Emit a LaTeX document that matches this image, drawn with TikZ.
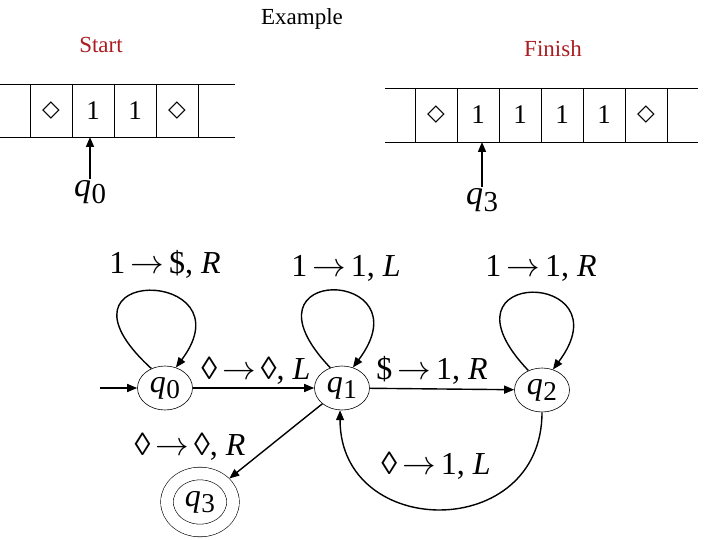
\documentclass[tikz,border=0pt]{standalone}
\usepackage{fontspec}
\setmainfont{Liberation Serif}
\newfontfamily\symfont{DejaVu Sans}
\usetikzlibrary{arrows.meta,shapes.geometric}
\definecolor{tapered}{RGB}{170,30,35}
\newcommand{\qst}[1]{\textit{q}\kern0.5pt\raisebox{-0.45ex}{\scalebox{0.85}{#1}}}
\newcommand{\blank}{{\symfont\fontsize{23}{23}\selectfont ◇}}
\newcommand{\goes}{\kern5pt\scalebox{1.35}{$\rightarrow$}\kern5pt}

\begin{document}
\begin{tikzpicture}[x=1pt, y=-1pt,
    title/.style={font=\fontsize{23}{23}\selectfont},
    tape/.style={line width=0.8pt},
    cell/.style={font=\fontsize{27}{27}\selectfont, inner sep=0pt},
    head/.style={font=\fontsize{34}{34}\selectfont, inner sep=1pt},
    pointer/.style={line width=1.5pt, -{Triangle[length=10pt,width=8pt]}},
    state/.style={ellipse, draw, line width=0.6pt, minimum width=55pt, minimum height=44pt, inner sep=0pt, font=\fontsize{32}{32}\selectfont},
    accepting/.style={double, double distance=12pt, minimum width=66pt, minimum height=57pt, outer sep=6.5pt},
    edge/.style={line width=1.4pt, -{Triangle[length=10pt,width=8pt]}},
    lbl/.style={font=\fontsize{32}{32}\selectfont, inner sep=0pt}
  ]
  \useasboundingbox (0,0) rectangle (720,540);

  % titles
  \node[title] (ex) at (302,19) {Example};
  \node[title, text=tapered] (st) at (101,45) {Start};
  \node[title, text=tapered] (fin) at (553,49) {Finish};

  % start tape
  \draw[tape] (0,84) -- (235,84) (0,137) -- (235,137);
  \foreach \x in {30,72,114,156,198} \draw[tape] (\x,84) -- (\x,137);
  \foreach \x/\s in {51/\blank,93/1,135/1,177/\blank} \node[cell] at (\x,111) {\s};
  \node[head] (hd0) at (90,192) {\qst{0}};
  \coordinate (t0) at (hd0.north |- 0,137);
  \draw[pointer] (hd0.north) -- (t0);

  % finish tape
  \draw[tape] (385,88) -- (698,88) (385,142) -- (698,142);
  \foreach \x in {415,457,499,541,583,625,667} \draw[tape] (\x,88) -- (\x,142);
  \foreach \x/\s in {436/\blank,478/1,520/1,562/1,604/1,646/\blank} \node[cell] at (\x,115) {\s};
  \node[head] (hd3) at (482,200) {\qst{3}};
  \coordinate (t3) at (hd3.north |- 0,142);
  \draw[pointer] (hd3.north) -- (t3);

  % states
  \node[state] (q0) at (165,388) {\qst{0}};
  \node[state] (q1) at (342,388) {\qst{1}};
  \node[state] (q2) at (542,390) {\qst{2}};
  \node[state, accepting] (q3) at (200,502) {\qst{3}};
  \coordinate (in) at (100,388);

  % transitions
  \draw[edge] (in) -- (q0);
  \draw[edge] (q0.125) .. controls +(-115,-105) and +(75,-100) .. (q0.62);
  \draw[edge] (q1.120) .. controls +(-100,-105) and +(75,-100) .. (q1.62);
  \draw[edge] (q2.125) .. controls +(-100,-105) and +(75,-100) .. (q2.62);
  \draw[edge] (q0) -- (q1);
  \draw[edge] (q1) -- (q2);
  \draw[edge] (q1) -- (q3);
  \draw[edge] (q2.south) .. controls +(0,130) and +(0,130) .. (q1.265);

  % labels
  \node[lbl] (l00) at (165,264) {1\goes\$, \textit{R}};
  \node[lbl] (l11) at (346,268) {1\goes 1, \textit{L}};
  \node[lbl] (l22) at (541,268) {1\goes 1, \textit{R}};
  \node[lbl] (l01) at (256,371) {◊\goes◊, \textit{L}};
  \node[lbl] (l12) at (432,370) {\$\goes 1, \textit{R}};
  \node[lbl] (l13) at (190,447) {◊\goes◊, \textit{R}};
  \node[lbl] (l21) at (436,466) {◊\goes 1, \textit{L}};
\end{tikzpicture}
\end{document}
